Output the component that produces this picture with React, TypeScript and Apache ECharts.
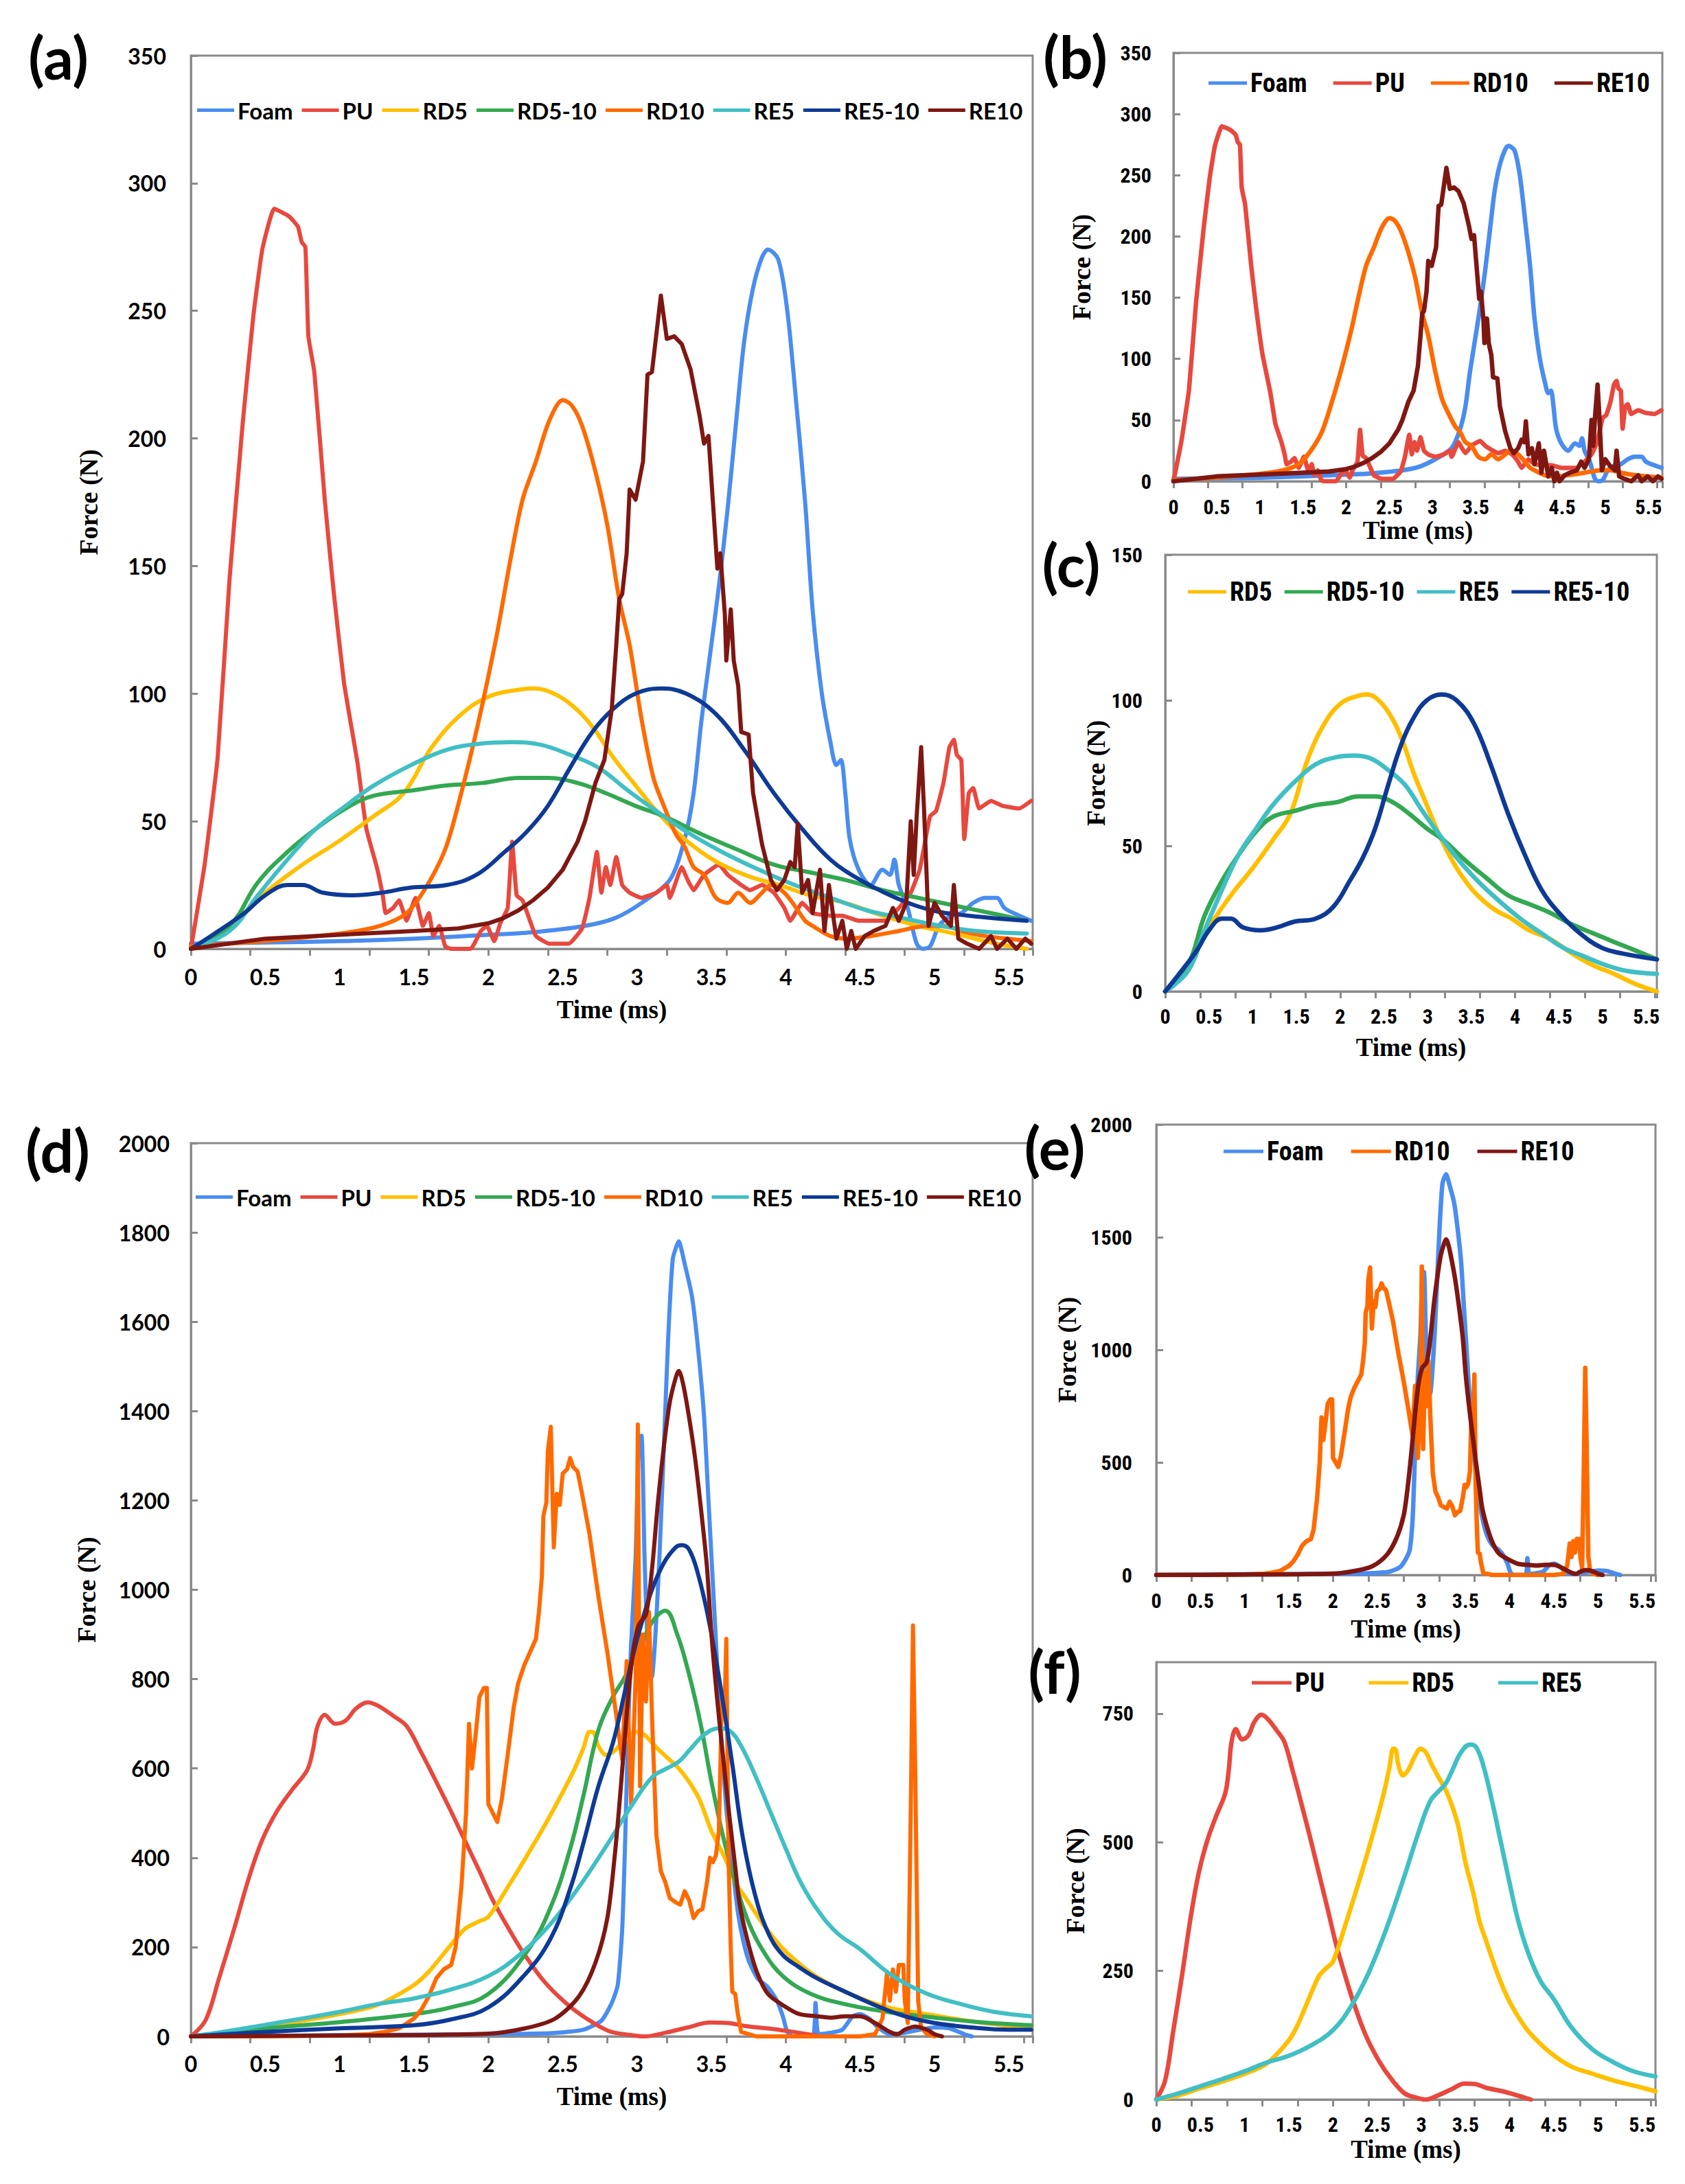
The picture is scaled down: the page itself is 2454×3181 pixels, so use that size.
import React, { useEffect, useRef } from "react";
import * as echarts from "echarts";

// ---------- Series names & colours ----------
const NAMES = ["Foam", "PU", "RD5", "RD5-10", "RD10", "RE5", "RE5-10", "RE10"];
const COLORS: Record<string, string> = {
  Foam: "#4A8DF0",
  PU: "#E8483E",
  RD5: "#FFBF00",
  "RD5-10": "#33A852",
  RD10: "#FF6A00",
  RE5: "#40BFC4",
  "RE5-10": "#0E3A96",
  RE10: "#7E1712",
};

// ---------- Data set 1 (panels a, b, c): [time ms, force N] ----------
const A_FOAM = [[0,2],[0.5,2.5],[1,3],[1.5,4],[2,5.5],[2.3,6.5],[2.65,9],[2.85,12],[3.03,18],[3.22,27],[3.32,43],[3.38,61],[3.43,88],[3.49,115],[3.55,142],[3.61,173],[3.67,209],[3.72,238],[3.78,259],[3.84,271],[3.88,274],[3.95,270],[4.01,250],[4.07,214],[4.13,175],[4.18,133],[4.24,101],[4.3,81],[4.34,72],[4.37,74],[4.4,61],[4.43,43],[4.49,31],[4.57,25],[4.65,31],[4.7,29],[4.73,35],[4.76,25],[4.82,16],[4.88,2],[4.92,0],[4.97,1],[5.03,9],[5.11,13],[5.18,14],[5.26,18],[5.34,20],[5.42,20],[5.47,16],[5.57,13],[5.65,11]];
const A_PU = [[0,0],[0.09,32],[0.18,75],[0.26,145],[0.35,207],[0.42,248],[0.48,274],[0.56,290],[0.66,287],[0.72,283],[0.745,277],[0.77,275],[0.79,240],[0.83,226],[0.9,176],[0.96,140],[1.03,104],[1.12,73],[1.18,47],[1.25,32],[1.29,21],[1.31,14],[1.36,16],[1.4,19],[1.45,11],[1.51,20],[1.56,9],[1.6,14],[1.63,5],[1.67,9],[1.71,1],[1.75,0],[1.88,0],[1.95,7],[1.99,9],[2.04,3],[2.08,10],[2.13,16],[2.16,42],[2.19,21],[2.23,19],[2.28,11],[2.32,5],[2.41,2],[2.54,2],[2.63,8],[2.68,20],[2.73,38],[2.76,22],[2.79,32],[2.82,25],[2.86,36],[2.9,25],[2.95,22],[3.03,20],[3.13,22],[3.2,25],[3.22,20],[3.3,32],[3.34,27],[3.38,23],[3.45,29],[3.55,33],[3.61,29],[3.7,25],[3.76,23],[3.84,25],[3.92,22],[3.99,16],[4.03,11],[4.11,18],[4.18,14],[4.3,13],[4.38,13],[4.49,11],[4.67,11],[4.76,16],[4.84,22],[4.9,31],[4.93,40],[4.97,52],[5.01,54],[5.06,65],[5.1,79],[5.13,82],[5.15,76],[5.18,74],[5.2,43],[5.23,61],[5.26,63],[5.3,55],[5.38,58],[5.46,56],[5.57,55],[5.65,58]];
const A_RD5 = [[0,0],[0.26,9],[0.5,22],[0.75,33],[0.99,42],[1.23,52],[1.43,61],[1.62,79],[1.82,92],[2.01,99],[2.2,101.5],[2.3,102],[2.4,101],[2.55,96],[2.7,87],[2.84,75],[2.99,64],[3.13,54],[3.28,45],[3.43,38],[3.57,33],[3.77,28],[3.96,25],[4.16,21],[4.4,18],[4.65,13],[4.89,9],[5.13,6],[5.38,2.5],[5.62,0]];
const A_RD510 = [[0,0],[0.26,9],[0.45,26],[0.65,38],[0.84,47],[1.04,55],[1.23,60],[1.48,62],[1.72,64],[1.96,65],[2.21,67],[2.4,67],[2.6,65],[2.79,61],[2.99,56],[3.18,52],[3.43,45],[3.67,39],[3.92,33],[4.16,30],[4.4,27],[4.65,23],[4.89,20],[5.13,17],[5.38,14],[5.62,11]];
const A_RD10 = [[0,1],[0.48,3],[1,6],[1.27,9],[1.45,14],[1.58,24],[1.71,39],[1.8,57],[1.93,88],[2.06,124],[2.15,153],[2.23,176],[2.32,191],[2.41,207],[2.5,215],[2.56,213],[2.63,205],[2.72,187],[2.8,166],[2.88,137],[2.95,119],[3.03,90],[3.11,67],[3.18,56],[3.26,45],[3.32,40],[3.38,32],[3.45,29],[3.53,20],[3.61,18],[3.68,22],[3.76,18],[3.84,22],[3.9,25],[3.99,22],[4.07,16],[4.13,11],[4.18,9],[4.3,5],[4.42,4],[4.57,5],[4.76,7],[4.95,9],[5.07,9],[5.18,7],[5.34,5],[5.49,4],[5.65,3]];
const A_RE5 = [[0,0],[0.26,7],[0.45,21],[0.65,35],[0.84,47],[1.04,56],[1.23,64],[1.48,72],[1.72,78],[1.96,80.5],[2.16,81],[2.35,80],[2.55,76],[2.74,71],[2.94,62],[3.13,54],[3.33,46],[3.57,38],[3.82,31],[4.06,25],[4.3,20],[4.55,15],[4.79,12],[5.04,9],[5.28,7],[5.62,6]];
const A_RE510 = [[0,0],[0.16,6],[0.36,14],[0.5,21],[0.65,25],[0.75,25],[0.89,22],[1.09,21],[1.28,22],[1.48,24],[1.72,25],[1.92,29],[2.11,38],[2.26,46],[2.4,56],[2.55,71],[2.7,85],[2.84,94],[2.99,100],[3.16,102],[3.33,100],[3.53,92],[3.72,78],[3.92,61],[4.11,47],[4.3,35],[4.5,27],[4.74,20],[4.99,15],[5.23,13],[5.62,11]];
const A_RE10 = [[0,0],[0.5,4],[1,5.5],[1.5,7],[1.8,8],[2,10],[2.1,12],[2.2,15],[2.3,19],[2.4,24],[2.5,31],[2.6,42],[2.65,50],[2.72,65],[2.78,74],[2.83,94],[2.86,119],[2.88,137],[2.9,139],[2.93,155],[2.95,180],[2.99,176],[3.04,191],[3.07,225],[3.1,226],[3.13,241],[3.16,256],[3.2,239],[3.25,240],[3.3,237],[3.36,227],[3.39,218],[3.42,209],[3.45,198],[3.48,201],[3.51,175],[3.54,149],[3.56,155],[3.59,131],[3.6,113],[3.63,133],[3.65,113],[3.68,103],[3.7,85],[3.75,84],[3.78,61],[3.84,41],[3.9,27],[3.94,23],[3.99,27],[4.03,34],[4.06,32],[4.08,49],[4.11,22],[4.15,27],[4.18,14],[4.23,31],[4.26,7],[4.29,25],[4.34,4],[4.38,11],[4.41,0],[4.44,7],[4.47,0],[4.53,5],[4.59,7],[4.67,9],[4.72,16],[4.76,11],[4.81,18],[4.84,50],[4.86,29],[4.88,52],[4.91,79],[4.93,54],[4.96,9],[5,18],[5.05,13],[5.11,9],[5.13,25],[5.16,4],[5.22,2],[5.3,0],[5.38,5],[5.42,0],[5.49,4],[5.55,0],[5.61,4],[5.65,2]];

// ---------- Data set 2 (panels d, e, f): [time ms, force N] ----------
const D_FOAM = [[0,0],[0.5,1],[1,3],[1.5,4],[2,5],[2.3,6],[2.5,9],[2.64,15],[2.76,35],[2.83,75],[2.87,115],[2.9,240],[2.92,440],[2.94,690],[2.96,880],[2.99,1070],[3.01,1310],[3.03,1345],[3.05,1075],[3.07,890],[3.1,805],[3.12,880],[3.15,1070],[3.18,1320],[3.21,1570],[3.24,1740],[3.28,1780],[3.32,1730],[3.37,1655],[3.41,1540],[3.45,1390],[3.48,1200],[3.52,950],[3.56,700],[3.6,510],[3.64,385],[3.675,285],[3.71,220],[3.75,170],[3.81,130],[3.88,110],[3.94,80],[3.98,45],[4.01,10],[4.05,0],[4.18,0],[4.2,75],[4.22,5],[4.3,8],[4.38,15],[4.45,45],[4.5,50],[4.56,40],[4.62,20],[4.7,5],[4.8,8],[4.9,15],[5,20],[5.1,18],[5.2,5],[5.25,0]];
const D_PU = [[0,0],[0.1,37],[0.19,131],[0.29,240],[0.39,355],[0.48,440],[0.58,505],[0.68,552],[0.78,595],[0.82,640],[0.85,693],[0.9,720],[0.97,700],[1.04,707],[1.11,734],[1.19,748],[1.26,740],[1.36,718],[1.45,695],[1.55,635],[1.65,570],[1.74,510],[1.84,440],[1.94,370],[2.03,305],[2.13,245],[2.23,190],[2.37,125],[2.52,75],[2.66,40],[2.81,12],[2.96,3],[3.05,0],[3.2,9],[3.34,20],[3.49,31],[3.61,30],[3.73,23],[3.92,16],[4.07,9],[4.24,0]];
const D_RD5 = [[0,0],[0.25,8],[0.5,22],[0.75,35],[1,50],[1.25,70],[1.5,115],[1.6,145],[1.7,185],[1.84,240],[1.92,255],[2,268],[2.13,334],[2.28,416],[2.42,497],[2.57,592],[2.64,646],[2.68,682],[2.71,680],[2.74,650],[2.79,630],[2.85,640],[2.92,665],[2.99,682],[3.05,675],[3.12,650],[3.2,625],[3.28,600],[3.35,570],[3.42,530],[3.5,460],[3.59,400],[3.66,345],[3.73,310],[3.85,250],[3.97,200],[4.1,160],[4.22,131],[4.46,91],[4.7,64],[4.94,50],[5.18,37],[5.5,23],[5.65,16]];
const D_RD510 = [[0,0],[0.5,18],[1,32],[1.5,50],[1.75,65],[2,95],[2.26,190],[2.42,290],[2.55,420],[2.64,540],[2.74,686],[2.84,762],[2.91,800],[3.03,877],[3.1,927],[3.19,953],[3.27,900],[3.35,810],[3.43,695],[3.5,570],[3.58,445],[3.66,345],[3.75,255],[3.85,190],[3.98,135],[4.17,95],[4.4,72],[4.68,55],[5,42],[5.3,32],[5.65,25]];
const D_RD10 = [[0,0],[0.5,0],[1,2],[1.2,5],[1.3,10],[1.4,18],[1.5,40],[1.55,60],[1.6,90],[1.65,130],[1.7,150],[1.75,160],[1.78,200],[1.82,340],[1.85,500],[1.87,700],[1.89,600],[1.91,660],[1.94,760],[1.97,780],[1.99,780],[2,520],[2.03,500],[2.06,480],[2.09,530],[2.13,630],[2.17,735],[2.2,790],[2.24,830],[2.28,860],[2.32,890],[2.34,950],[2.36,1030],[2.37,1165],[2.39,1195],[2.4,1310],[2.42,1365],[2.44,1095],[2.46,1215],[2.48,1190],[2.5,1260],[2.53,1270],[2.55,1295],[2.57,1275],[2.6,1265],[2.63,1215],[2.68,1125],[2.74,985],[2.8,860],[2.86,720],[2.9,620],[2.93,840],[2.96,520],[2.99,800],[3.005,1370],[3.02,560],[3.04,900],[3.06,750],[3.08,950],[3.1,720],[3.13,450],[3.16,370],[3.19,345],[3.22,310],[3.26,300],[3.29,295],[3.32,325],[3.35,305],[3.38,265],[3.41,280],[3.44,285],[3.47,345],[3.49,400],[3.51,390],[3.53,405],[3.55,460],[3.57,750],[3.59,760],[3.6,890],[3.615,400],[3.63,195],[3.64,100],[3.66,95],[3.675,55],[3.7,10],[3.75,5],[3.8,0],[4.5,0],[4.6,5],[4.65,40],[4.68,140],[4.7,80],[4.72,150],[4.74,100],[4.76,160],[4.79,160],[4.8,80],[4.82,30],[4.84,500],[4.855,920],[4.87,600],[4.89,80],[4.91,20],[4.95,5],[5,0]];
const D_RE5 = [[0,0],[0.25,12],[0.5,26],[0.75,40],[1,55],[1.25,72],[1.5,85],[1.75,105],[2,135],[2.2,180],[2.4,245],[2.6,330],[2.8,430],[2.96,515],[3.1,580],[3.2,600],[3.28,615],[3.35,640],[3.45,675],[3.55,690],[3.62,685],[3.7,650],[3.8,580],[3.9,500],[4,420],[4.1,345],[4.22,280],[4.35,230],[4.5,195],[4.7,140],[4.94,97],[5.18,72],[5.4,55],[5.65,45]];
const D_RE510 = [[0,0],[0.5,10],[1,18],[1.5,25],[1.75,38],[2,65],[2.25,140],[2.42,220],[2.55,330],[2.64,434],[2.74,560],[2.84,660],[2.91,760],[2.97,850],[3.03,925],[3.1,1000],[3.18,1060],[3.26,1095],[3.3,1100],[3.35,1090],[3.41,1035],[3.48,935],[3.56,785],[3.64,610],[3.71,447],[3.79,321],[3.88,233],[3.98,182],[4.09,155],[4.21,130],[4.4,100],[4.6,70],[4.8,45],[5,30],[5.25,20],[5.5,15],[5.65,15]];
const D_RE10 = [[0,0],[1,2],[2,6],[2.26,19],[2.45,40],[2.61,90],[2.72,165],[2.8,265],[2.85,405],[2.89,555],[2.93,720],[2.97,855],[3.01,920],[3.06,945],[3.1,1045],[3.14,1195],[3.18,1320],[3.22,1420],[3.26,1475],[3.28,1490],[3.31,1460],[3.35,1385],[3.39,1295],[3.43,1180],[3.47,1050],[3.5,900],[3.54,750],[3.58,620],[3.62,495],[3.66,380],[3.69,295],[3.75,205],[3.81,140],[3.88,95],[3.98,70],[4.09,50],[4.21,45],[4.3,42],[4.4,45],[4.5,45],[4.6,30],[4.7,10],[4.75,5],[4.8,15],[4.87,22],[4.95,15],[5,5],[5.05,0]];

const SET_A: Record<string, number[][]> = { Foam: A_FOAM, PU: A_PU, RD5: A_RD5, "RD5-10": A_RD510, RD10: A_RD10, RE5: A_RE5, "RE5-10": A_RE510, RE10: A_RE10 };
const SET_D: Record<string, number[][]> = { Foam: D_FOAM, PU: D_PU, RD5: D_RD5, "RD5-10": D_RD510, RD10: D_RD10, RE5: D_RE5, "RE5-10": D_RE510, RE10: D_RE10 };

// smoothing per series and set (sharply noisy traces stay unsmoothed)
const SMOOTH_A: Record<string, number | boolean> = { Foam: 0.3, PU: 0.12, RD5: 0.4, "RD5-10": 0.4, RD10: 0.3, RE5: 0.4, "RE5-10": 0.4, RE10: false };
const SMOOTH_D: Record<string, number | boolean> = { Foam: 0.2, PU: 0.35, RD5: 0.3, "RD5-10": 0.4, RD10: false, RE5: 0.4, "RE5-10": 0.4, RE10: 0.3 };

// ---------- Panels ----------
const SANS = "Lato, 'Liberation Sans', sans-serif";
const NARROW = "'Liberation Sans Narrow', 'Arial Narrow', 'Roboto Condensed', Lato, sans-serif";
const SERIF = "'Liberation Serif', 'Times New Roman', serif";
const FRAME = "#8A8A8A";

type Panel = {
  label: string; lx: number; ly: number;
  left: number; top: number; width: number; height: number;
  set: "A" | "D"; names: string[];
  yMax: number; yStep: number; hideYMax?: boolean; xMax: number;
  font: string; tickSize: number; legSize: number;
  xMargin: number; xNameGap: number; yMargin: number; yNameGap: number;
  legLeft: number; legTop: number; legGap: number; legW: number; lw: number;
};

const PANELS: Panel[] = [
  { label: "(a)", lx: 85, ly: 82, left: 278, top: 81, width: 1226, height: 1301, set: "A", names: NAMES,
    yMax: 350, yStep: 50, xMax: 5.66, font: SANS, tickSize: 32, legSize: 33,
    xMargin: 24, xNameGap: 70, yMargin: 36, yNameGap: 130, legLeft: 287, legTop: 144, legGap: 13, legW: 54, lw: 6 },
  { label: "(b)", lx: 1566, ly: 81, left: 1709, top: 77, width: 712, height: 624, set: "A", names: ["Foam", "PU", "RD10", "RE10"],
    yMax: 350, yStep: 50, xMax: 5.66, font: NARROW, tickSize: 30, legSize: 38,
    xMargin: 22, xNameGap: 52, yMargin: 32, yNameGap: 115, legLeft: 1760, legTop: 102, legGap: 38, legW: 56, lw: 6.5 },
  { label: "(c)", lx: 1560, ly: 821, left: 1697, top: 808, width: 716, height: 636, set: "A", names: ["RD5", "RD5-10", "RE5", "RE5-10"],
    yMax: 150, yStep: 50, xMax: 5.62, font: NARROW, tickSize: 30, legSize: 38,
    xMargin: 21, xNameGap: 63, yMargin: 33, yNameGap: 81, legLeft: 1730, legTop: 843, legGap: 18, legW: 56, lw: 6.5 },
  { label: "(d)", lx: 84, ly: 1674, left: 278, top: 1665, width: 1226, height: 1301, set: "D", names: NAMES,
    yMax: 2000, yStep: 200, xMax: 5.66, font: SANS, tickSize: 32, legSize: 33,
    xMargin: 23, xNameGap: 69, yMargin: 31, yNameGap: 133, legLeft: 285, legTop: 1727, legGap: 13, legW: 54, lw: 6 },
  { label: "(e)", lx: 1536, ly: 1670, left: 1684, top: 1638, width: 727, height: 656, set: "D", names: ["Foam", "RD10", "RE10"],
    yMax: 2000, yStep: 500, xMax: 5.65, font: NARROW, tickSize: 30, legSize: 38,
    xMargin: 22, xNameGap: 60, yMargin: 35, yNameGap: 111, legLeft: 1782, legTop: 1658, legGap: 40, legW: 58, lw: 6.5 },
  { label: "(f)", lx: 1536, ly: 2433, left: 1684, top: 2421, width: 727, height: 637, set: "D", names: ["PU", "RD5", "RE5"],
    yMax: 850, yStep: 250, hideYMax: true, xMax: 5.65, font: NARROW, tickSize: 30, legSize: 38,
    xMargin: 21, xNameGap: 54, yMargin: 33, yNameGap: 99, legLeft: 1823, legTop: 2432, legGap: 64, legW: 58, lw: 6.5 },
];

function buildOption() {
  const grid: any[] = [];
  const xAxis: any[] = [];
  const yAxis: any[] = [];
  const series: any[] = [];
  const legend: any[] = [];
  const graphic: any[] = [];
  const xNameStyle = { fontFamily: SERIF, fontSize: 37, fontWeight: "bold", color: "#000" };
  const yNameStyle = { fontFamily: SERIF, fontSize: 38, fontWeight: "bold", color: "#000" };

  PANELS.forEach((p, i) => {
    grid.push({ left: p.left, top: p.top, width: p.width, height: p.height, show: true, borderColor: FRAME, borderWidth: 3, backgroundColor: "transparent" });
    xAxis.push({
      type: "value", gridIndex: i, min: 0, max: p.xMax, interval: 0.5, position: "bottom",
      axisLine: { show: true, onZero: false, lineStyle: { color: FRAME, width: 3 } },
      axisTick: { show: false }, splitLine: { show: false },
      axisLabel: { show: true, margin: p.xMargin, fontFamily: p.font, fontSize: p.tickSize, fontWeight: "bold", color: "#000", showMaxLabel: false, showMinLabel: true,
        formatter: (v: number) => String(Math.round(v * 100) / 100) },
      name: "Time (ms)", nameLocation: "middle", nameGap: p.xNameGap, nameTextStyle: xNameStyle,
    });
    xAxis.push({
      type: "value", gridIndex: i, min: 0, max: p.xMax, interval: 0.4, position: "bottom",
      axisLine: { show: false }, axisLabel: { show: false }, splitLine: { show: false },
      axisTick: { show: true, inside: false, length: 10, lineStyle: { color: FRAME, width: 3 } },
    });
    yAxis.push({
      type: "value", gridIndex: i, min: 0, max: p.yMax, interval: p.yStep,
      axisLine: { show: true, onZero: false, lineStyle: { color: FRAME, width: 3 } },
      axisTick: { show: true, inside: true, length: 10, lineStyle: { color: FRAME, width: 3 } },
      splitLine: { show: false },
      axisLabel: { margin: p.yMargin, fontFamily: p.font, fontSize: p.tickSize, fontWeight: "bold", color: "#000",
        showMaxLabel: !p.hideYMax, showMinLabel: true, formatter: (v: number) => String(v) },
      name: "Force (N)", nameLocation: "middle", nameGap: p.yNameGap, nameTextStyle: yNameStyle,
    });
    const data = p.set === "A" ? SET_A : SET_D;
    const sm = p.set === "A" ? SMOOTH_A : SMOOTH_D;
    p.names.forEach((n) => {
      series.push({
        type: "line", name: n, data: data[n], xAxisIndex: 2 * i, yAxisIndex: i,
        showSymbol: false, symbol: "none", smooth: sm[n],
        lineStyle: { color: COLORS[n], width: p.lw, join: "round", cap: "round" }, itemStyle: { color: COLORS[n] },
        emphasis: { disabled: true }, silent: true,
      });
    });
    legend.push({
      data: p.names.map((n) => ({ name: n, icon: "rect" })), left: p.legLeft, top: p.legTop, orient: "horizontal",
      itemWidth: p.legW, itemHeight: 5, itemGap: p.legGap, padding: 0, selectedMode: false,
      textStyle: { fontFamily: p.font, fontSize: p.legSize, fontWeight: "bold", color: "#000" },
    });
    graphic.push({
      type: "text", x: p.lx, y: p.ly,
      style: { text: p.label, font: `bold 86px ${SANS}`, fill: "#000", align: "center", verticalAlign: "middle", textAlign: "center", textVerticalAlign: "middle" },
    });
  });

  return { animation: false, backgroundColor: "#fff", grid, xAxis, yAxis, series, legend, graphic };
}

export default function App() {
  const ref = useRef<HTMLDivElement>(null);
  useEffect(() => {
    document.body.style.margin = "0";
    if (!ref.current) return;
    const chart = echarts.init(ref.current, undefined, { renderer: "svg" });
    chart.setOption(buildOption() as any);
    return () => chart.dispose();
  }, []);
  return <div ref={ref} style={{ width: 2454, height: 3181, background: "#fff" }} />;
}
